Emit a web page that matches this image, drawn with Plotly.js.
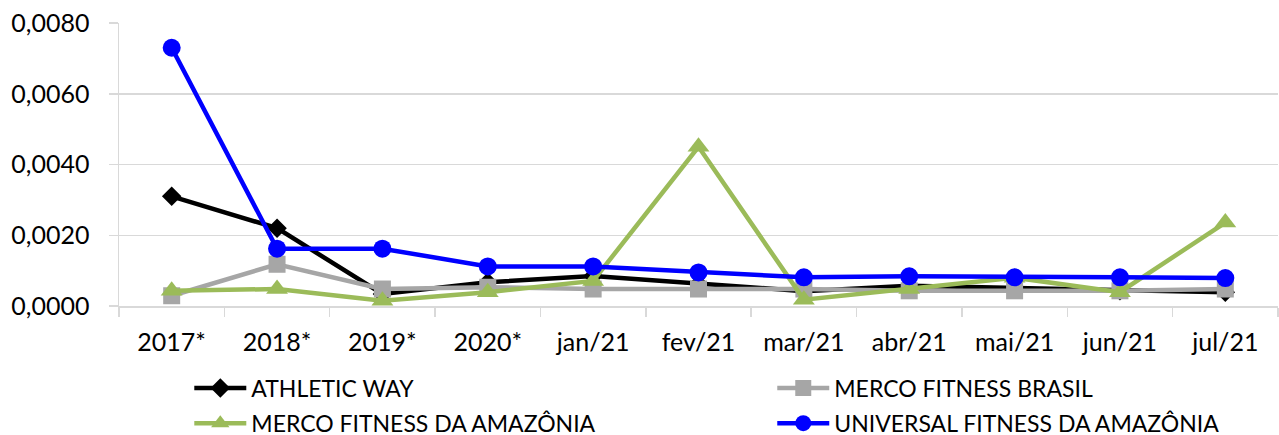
<!DOCTYPE html>
<html>
<head>
<meta charset="utf-8">
<script src="https://cdn.plot.ly/plotly-3.0.1.min.js"></script>
<style>html,body{margin:0;padding:0;background:#fff;}#chart{width:1279px;height:435px;}</style>
</head>
<body>
<div id="chart"></div>
<script>
var categories = ["2017*", "2018*", "2019*", "2020*", "jan/21", "fev/21", "mar/21", "abr/21", "mai/21", "jun/21", "jul/21"];
var athleticWay = [0.0031, 0.0022, 0.00034, 0.00067, 0.00085, 0.00062, 0.00042, 0.00057, 0.0005, 0.00043, 0.00039];
var mercoBrasil = [0.00029, 0.00118, 0.00048, 0.00053, 0.00048, 0.00048, 0.00048, 0.00043, 0.00043, 0.00043, 0.00048];
var mercoAmazonia = [0.00043, 0.00048, 0.00015, 0.00039, 0.00071, 0.0045, 0.00018, 0.00048, 0.0008, 0.00039, 0.00236];
var universalAmazonia = [0.0073, 0.00162, 0.00162, 0.00112, 0.00112, 0.00095, 0.00081, 0.00084, 0.00081, 0.00081, 0.00079];
var seriesNames = ["ATHLETIC WAY", "MERCO FITNESS BRASIL", "MERCO FITNESS DA AMAZÔNIA", "UNIVERSAL FITNESS DA AMAZÔNIA"];
var yTicks = [0, 0.002, 0.004, 0.006, 0.008];

var FONT = "Lato, 'Open Sans', sans-serif";
function mk(name, y, color, symbol, size, legendId) {
  return {
    type: "scatter", mode: "lines+markers", name: name, x: categories, y: y,
    line: {color: color, width: 4.5},
    marker: {color: color, symbol: symbol, size: size},
    cliponaxis: false, legend: legendId
  };
}
var data = [
  mk(seriesNames[0], athleticWay, "#000000", "diamond", 15, "legend"),
  mk(seriesNames[1], mercoBrasil, "#a6a6a6", "square", 17, "legend2"),
  mk(seriesNames[2], mercoAmazonia, "#9bbb59", "triangle-up", 19, "legend3"),
  mk(seriesNames[3], universalAmazonia, "#0000ff", "circle", 18, "legend4")
];
function legendCfg(xc, yc) {
  return {
    orientation: "h", xref: "container", yref: "container",
    x: xc, y: yc, xanchor: "left", yanchor: "middle",
    itemwidth: 52,
    font: {family: FONT, size: 23, color: "#000000"},
    bgcolor: "rgba(0,0,0,0)", borderwidth: 0
  };
}
var col1 = 0.148, col2 = 0.6038, row1 = 0.108, row2 = 0.027;
var layout = {
  width: 1279, height: 435,
  margin: {l: 119, r: 1, t: 23, b: 129},
  paper_bgcolor: "#ffffff", plot_bgcolor: "#ffffff",
  separators: ",.",
  font: {family: FONT, color: "#000000"},
  showlegend: true,
  xaxis: {
    type: "category", tickson: "boundaries", ticks: "outside", ticklen: 9,
    tickcolor: "#d9d9d9", tickwidth: 1.5,
    showline: true, linecolor: "#d9d9d9", linewidth: 1.5,
    showgrid: false, zeroline: false, ticklabelstandoff: 13,
    tickfont: {family: FONT, size: 25, color: "#000000"},
    range: [-0.5, 10.5], fixedrange: true
  },
  yaxis: {
    range: [0, 0.008], tickvals: yTicks, tickformat: ".4f",
    ticks: "outside", ticklen: 9, tickcolor: "#d9d9d9", tickwidth: 1.5,
    showline: true, linecolor: "#d9d9d9", linewidth: 1.5,
    showgrid: true, gridcolor: "#d9d9d9", gridwidth: 1.5,
    zeroline: false, ticklabelstandoff: 14,
    tickfont: {family: FONT, size: 25, color: "#000000"},
    fixedrange: true
  },
  legend: legendCfg(col1, row1),
  legend2: legendCfg(col2, row1),
  legend3: legendCfg(col1, row2),
  legend4: legendCfg(col2, row2)
};
Plotly.newPlot("chart", data, layout, {displayModeBar: false, staticPlot: true});
</script>
</body>
</html>
